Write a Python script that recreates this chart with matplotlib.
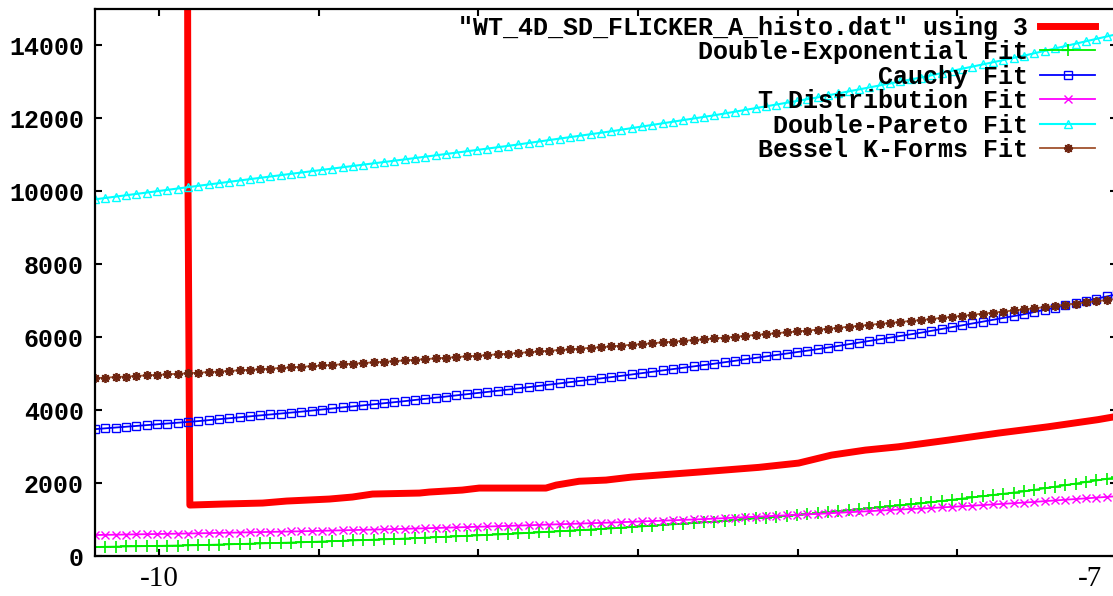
import numpy as np
import matplotlib
matplotlib.use("Agg")
import matplotlib.pyplot as plt
from matplotlib.transforms import ScaledTranslation

# histogram data ("using 3")
hist_x = [-9.911, -9.909, -9.906, -9.903, -9.800, -9.675, -9.600, -9.466, -9.394,
          -9.331, -9.184, -9.153, -9.050, -8.997, -8.788, -8.756, -8.684, -8.600,
          -8.519, -8.309, -8.122, -7.997, -7.894, -7.788, -7.684, -7.528, -7.372,
          -7.216, -7.059, -7.000]
hist_y = [20000, 10440, 5900, 1397, 1425, 1452, 1507, 1562, 1617,
          1699, 1726, 1754, 1808, 1863, 1863, 1945, 2050, 2082,
          2165, 2302, 2430, 2548, 2767, 2904, 2995, 3178, 3370,
          3543, 3740, 3830]

# fit curves, 100 gnuplot samples over the x range
x_fit = np.linspace(-10.2, -7.0, 100)

double_exp = [247, 252, 257, 262, 267, 272, 277, 282, 287, 292,
              297, 305, 313, 321, 329, 337, 345, 353, 361, 369,
              377, 387, 397, 407, 417, 427, 437, 447, 457, 467,
              477, 490, 502, 515, 527, 540, 552, 565, 577, 590,
              602, 618, 633, 649, 664, 680, 695, 711, 726, 742,
              757, 776, 794, 813, 831, 850, 868, 887, 905, 924,
              942, 965, 987, 1010, 1032, 1055, 1077, 1100, 1122, 1145,
              1167, 1195, 1222, 1250, 1277, 1305, 1332, 1360, 1387, 1415,
              1442, 1475, 1508, 1541, 1574, 1607, 1640, 1673, 1706, 1739,
              1772, 1815, 1858, 1900, 1943, 1986, 2029, 2071, 2114, 2157]

cauchy = [3479, 3501, 3523, 3545, 3567, 3589, 3611, 3633, 3655, 3677,
          3699, 3725, 3751, 3777, 3803, 3829, 3855, 3881, 3907, 3933,
          3959, 3988, 4017, 4045, 4074, 4103, 4132, 4161, 4189, 4218,
          4247, 4279, 4310, 4342, 4373, 4405, 4436, 4468, 4499, 4531,
          4562, 4596, 4630, 4665, 4699, 4733, 4767, 4801, 4836, 4870,
          4904, 4941, 4978, 5015, 5052, 5089, 5126, 5163, 5200, 5237,
          5274, 5314, 5353, 5393, 5433, 5473, 5512, 5552, 5592, 5631,
          5671, 5716, 5761, 5807, 5852, 5897, 5942, 5987, 6033, 6078,
          6123, 6174, 6224, 6275, 6326, 6377, 6427, 6478, 6529, 6579,
          6630, 6691, 6752, 6813, 6874, 6935, 6995, 7056, 7117, 7178]

t_dist = [575, 580, 584, 589, 594, 599, 603, 608, 613, 617,
          622, 628, 633, 639, 644, 650, 656, 661, 667, 672,
          678, 685, 691, 698, 705, 712, 718, 725, 732, 738,
          745, 753, 761, 769, 777, 785, 793, 801, 809, 817,
          825, 834, 843, 853, 862, 871, 880, 889, 899, 908,
          917, 928, 938, 949, 959, 970, 980, 991, 1001, 1012,
          1025, 1038, 1051, 1064, 1077, 1090, 1103, 1116, 1129, 1142,
          1155, 1170, 1185, 1200, 1215, 1230, 1245, 1260, 1275, 1288,
          1300, 1316, 1332, 1348, 1364, 1380, 1397, 1414, 1431, 1448,
          1465, 1484, 1504, 1523, 1543, 1562, 1581, 1601, 1620, 1640]

double_pareto = [9781, 9818, 9855, 9892, 9929, 9966, 10003, 10040, 10077, 10114,
                 10151, 10188, 10224, 10261, 10297, 10334, 10370, 10407, 10443, 10480,
                 10516, 10552, 10588, 10624, 10660, 10696, 10732, 10768, 10804, 10840,
                 10876, 10913, 10950, 10987, 11024, 11061, 11098, 11135, 11172, 11209,
                 11246, 11286, 11326, 11366, 11406, 11446, 11486, 11526, 11566, 11606,
                 11646, 11690, 11734, 11778, 11822, 11866, 11910, 11954, 11998, 12042,
                 12086, 12135, 12184, 12233, 12282, 12331, 12380, 12429, 12478, 12527,
                 12576, 12631, 12685, 12740, 12794, 12849, 12903, 12958, 13012, 13067,
                 13121, 13181, 13241, 13301, 13361, 13421, 13481, 13541, 13601, 13661,
                 13721, 13787, 13852, 13918, 13983, 14049, 14115, 14180, 14246, 14311]

bessel_k = [4877, 4892, 4907, 4922, 4937, 4952, 4967, 4982, 4997, 5012,
            5027, 5043, 5059, 5076, 5092, 5108, 5124, 5140, 5157, 5173,
            5189, 5206, 5224, 5241, 5259, 5276, 5293, 5311, 5328, 5346,
            5363, 5382, 5400, 5419, 5437, 5456, 5475, 5493, 5512, 5530,
            5549, 5569, 5589, 5609, 5629, 5649, 5669, 5689, 5709, 5729,
            5749, 5771, 5793, 5814, 5836, 5858, 5880, 5902, 5923, 5945,
            5967, 5991, 6015, 6039, 6063, 6087, 6111, 6135, 6159, 6183,
            6207, 6234, 6260, 6287, 6313, 6340, 6366, 6393, 6419, 6446,
            6472, 6501, 6530, 6559, 6588, 6617, 6646, 6675, 6704, 6733,
            6762, 6794, 6826, 6859, 6891, 6923, 6955, 6987, 7020, 7052]

labels = ['"WT_4D_SD_FLICKER_A_histo.dat" using 3', 'Double-Exponential Fit',
          'Cauchy Fit', 'T Distribution Fit', 'Double-Pareto Fit', 'Bessel K-Forms Fit']

x_ticks = [-10, -9.5, -9, -8.5, -8, -7.5, -7]
x_tick_labels = ['-10', '', '', '', '', '', '-7']
y_ticks = [0, 2000, 4000, 6000, 8000, 10000, 12000, 14000]

mono = 'Liberation Mono'

fig = plt.figure(figsize=(11.13, 5.96), dpi=100)
ax = fig.add_axes([95 / 1113, 40 / 596, 1022 / 1113, 547 / 596])

ax.plot(hist_x, hist_y, color='#ff0000', lw=5, label=labels[0])
ax.plot(x_fit, double_exp, color='#00ee00', lw=1.3, marker='+', ms=8, mew=1.2,
        label=labels[1])
ax.plot(x_fit, cauchy, color='#0000ff', lw=1.3, marker='s', ms=5.5, mew=1.0,
        mfc='none', label=labels[2])
ax.plot(x_fit, t_dist, color='#ff00ff', lw=1.3, marker='x', ms=5.5, mew=1.0,
        label=labels[3])
ax.plot(x_fit, double_pareto, color='#00ffff', lw=1.5, marker='^', ms=6, mew=1.0,
        mfc='none', label=labels[4])
ax.plot(x_fit, bessel_k, color='#a0522d', lw=1.3, marker=(8, 2, 0), ms=6.5, mew=1.3,
        mec='#6e2410', label=labels[5])

ax.set_xlim(-10.2, -7.0)
ax.set_ylim(0, 15000)
ax.set_xticks(x_ticks)
ax.set_xticklabels(x_tick_labels, fontfamily='Liberation Serif', fontsize=21)
ax.set_yticks(y_ticks)
ax.set_yticklabels([str(v) for v in y_ticks], fontfamily=mono,
                   fontweight='bold', fontsize=18)
ax.tick_params(direction='in', length=5, width=1.5, top=True, right=True)
ax.tick_params(axis='x', pad=7)
ax.tick_params(axis='y', pad=8)
for s in ax.spines.values():
    s.set_linewidth(1.6)

# last x label sits left of its tick (right edge is cropped)
lbl = ax.get_xticklabels()[-1]
lbl.set_transform(lbl.get_transform() + ScaledTranslation(-0.27, 0, fig.dpi_scale_trans))

leg = ax.legend(loc='upper right', bbox_to_anchor=(0.9785, 0.988), frameon=False,
                markerfirst=False, handlelength=2.2, handletextpad=0.5,
                labelspacing=0.02, borderpad=0, borderaxespad=0, numpoints=1,
                prop={'family': mono, 'weight': 'bold', 'size': 18})

fig.savefig('out.png', dpi=100)
